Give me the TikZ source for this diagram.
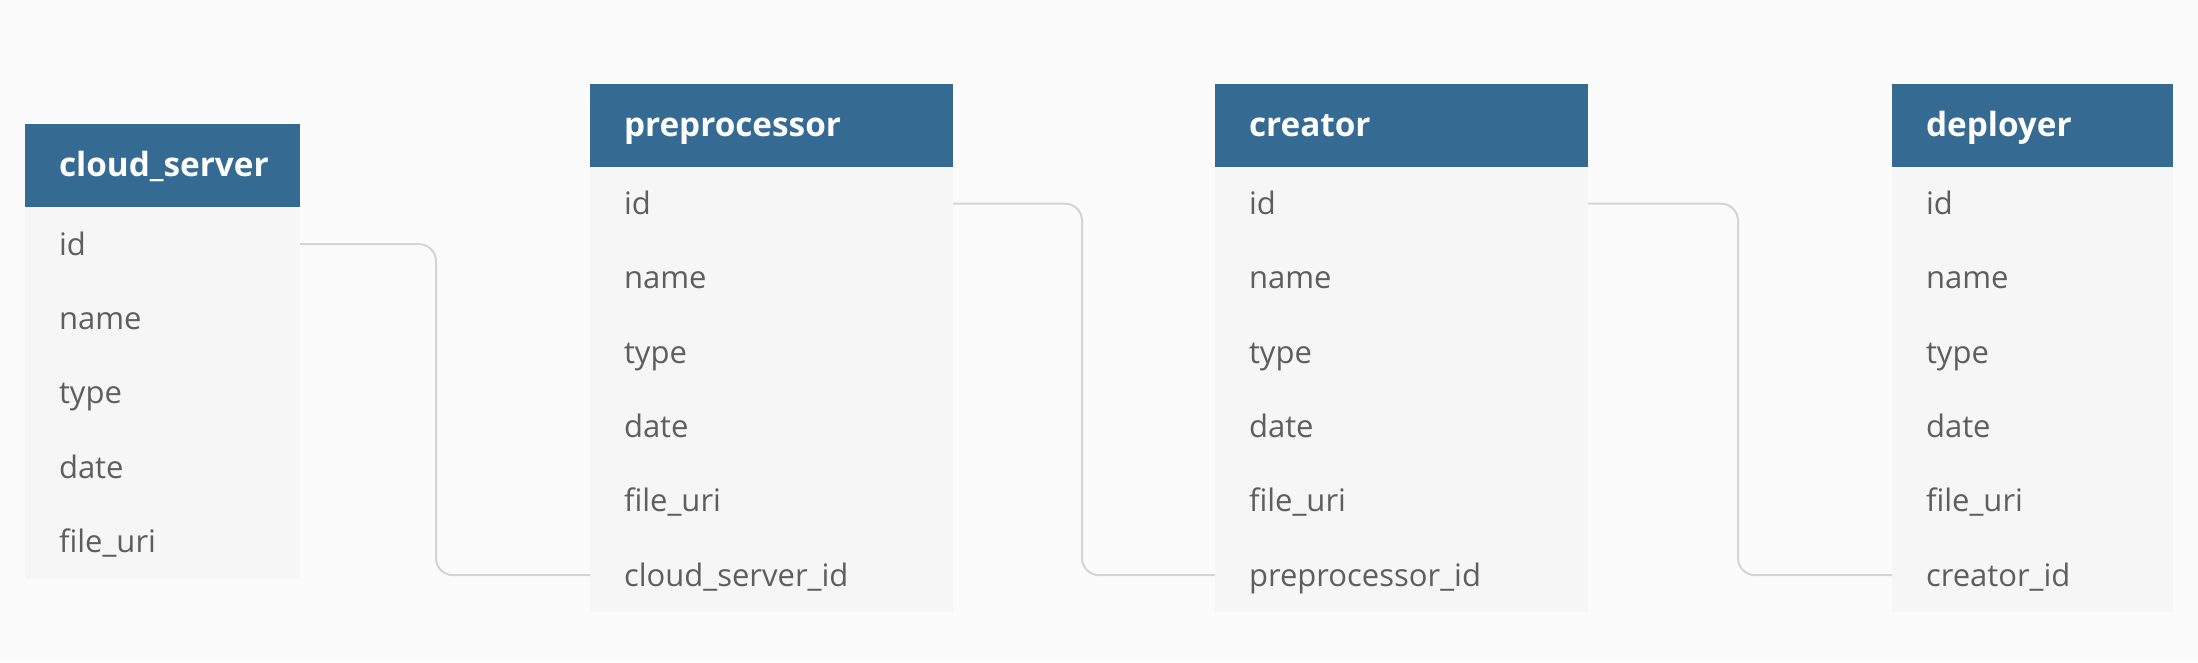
\documentclass[tikz,border=0pt]{standalone}
\usepackage{fontspec}
\newfontfamily\erdfont{Open Sans}
\definecolor{bgcol}{HTML}{FBFBFB}
\definecolor{hdrblue}{HTML}{356A93}
\definecolor{rowgray}{HTML}{F6F6F6}
\definecolor{txtgray}{HTML}{5E5E5E}
\definecolor{linegray}{HTML}{D4D4D4}
\tikzset{
  cell/.style={anchor=north west, inner xsep=34pt, inner ysep=0pt, align=left,
    text height=30pt, text depth=8pt, minimum height=74.3pt, outer sep=0pt},
  hdr/.style={cell, fill=hdrblue, text=white, minimum height=83pt,
    font=\erdfont\bfseries\fontsize{33.3}{38}\selectfont},
  fld/.style={cell, fill=rowgray, text=txtgray,
    font=\erdfont\fontsize{31}{36}\selectfont},
  conn/.style={draw=linegray, line width=2pt, rounded corners=17pt}
}
% #1 prefix, #2 x, #3 y top, #4 text width, #5 title, #6 fields
\newcommand\erdtable[6]{%
  \node[hdr, text width=#4pt] (#1h) at (#2,#3) {#5};
  \def\erdprev{#1h}%
  \foreach \f [count=\i] in {#6} {%
    \node[fld, text width=#4pt] (#1\i) at (\erdprev.south west) {\f};
    \xdef\erdprev{#1\i}%
  }%
}
\begin{document}
\begin{tikzpicture}[x=1pt, y=-1pt]
  \fill[bgcol] (0,0) rectangle (2198,662);
  \useasboundingbox (0,0) rectangle (2198,662);
  \erdtable{cs}{25}{124}{207}{cloud\_server}{id,name,type,date,file\_uri}
  \erdtable{pre}{590}{83.5}{295}{preprocessor}{id,name,type,date,file\_uri,cloud\_server\_id}
  \erdtable{cre}{1215}{83.5}{305}{creator}{id,name,type,date,file\_uri,preprocessor\_id}
  \erdtable{dep}{1892}{83.5}{213}{deployer}{id,name,type,date,file\_uri,creator\_id}
  \draw[conn] (cs1.east) -- ++(136,0) |- (pre6.west);
  \draw[conn] (pre1.east) -- ++(129,0) |- (cre6.west);
  \draw[conn] (cre1.east) -- ++(150,0) |- (dep6.west);
\end{tikzpicture}
\end{document}
